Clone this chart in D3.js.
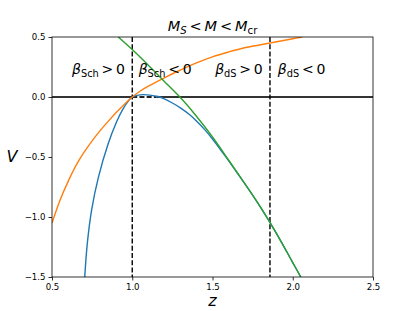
<!DOCTYPE html>
<html>
<head>
<meta charset="utf-8">
<script src="https://cdn.jsdelivr.net/npm/d3@7"></script>
<style>
  body { margin: 0; background: #fff; }
  text { font-family: "DejaVu Sans", sans-serif; }
</style>
</head>
<body>
<div id="chart"></div>
<script>

// Data
var blueZ = [0.704, 0.72, 0.747, 0.789, 0.85, 0.9, 0.94, 0.98, 1.0, 1.03, 1.07, 1.11, 1.16, 1.2, 1.25, 1.3, 1.36, 1.4, 1.45, 1.5, 1.55, 1.6, 1.65, 1.7, 1.8, 1.9, 2.0, 2.05];
var blueV = [-1.5, -1.22, -0.94, -0.67, -0.39, -0.215, -0.106, -0.026, 0, 0.014, 0.02, 0.016, 0.004, -0.015, -0.05, -0.09, -0.15, -0.2, -0.27, -0.35, -0.44, -0.53, -0.625, -0.72, -0.92, -1.14, -1.38, -1.5];

var orangeZ = [0.5, 0.55, 0.6, 0.65, 0.7, 0.75, 0.8, 0.85, 0.9, 0.95, 1.0, 1.05, 1.1, 1.2, 1.3, 1.4, 1.5, 1.6, 1.7, 1.8, 1.9, 2.0, 2.06];
var orangeV = [-1.05, -0.86, -0.705, -0.57, -0.46, -0.365, -0.28, -0.203, -0.13, -0.062, 0, 0.05, 0.09, 0.16, 0.225, 0.285, 0.335, 0.375, 0.41, 0.435, 0.46, 0.485, 0.5];

var greenZ = [0.913, 1.0, 1.1, 1.2, 1.3, 1.4, 1.5, 1.6, 1.7, 1.8, 1.9, 2.0, 2.05];
var greenV = [0.5, 0.395, 0.265, 0.13, -0.005, -0.16, -0.333, -0.525, -0.72, -0.92, -1.14, -1.38, -1.5];

var boundaries = [1.0, 1.858];   // dashed verticals (beta_Sch = 0, beta_dS = 0)
var dashedZero = [1.0, 1.15];    // stretch of the zero line drawn dashed

var xTicks = [0.5, 1.0, 1.5, 2.0, 2.5];
var yTicks = [0.5, 0.0, -0.5, -1.0, -1.5];

var regionSymbol = ['Sch', 'Sch', 'dS', 'dS'];
var regionSign = ['>', '<', '>', '<'];

// Setup
var width = 415, height = 311;
var margin = {left: 52, top: 37, right: 42, bottom: 34};
var plot_w = width - margin.left - margin.right;
var plot_h = height - margin.top - margin.bottom;

var x = d3.scaleLinear().domain([0.5, 2.5]).range([margin.left, margin.left + plot_w]);
var y = d3.scaleLinear().domain([-1.5, 0.5]).range([margin.top + plot_h, margin.top]);

var svg = d3.select('#chart')
  .append('svg')
  .attr('width', width)
  .attr('height', height);

svg.append('defs').append('clipPath')
  .attr('id', 'clip')
  .append('rect')
  .attr('x', margin.left)
  .attr('y', margin.top)
  .attr('width', plot_w)
  .attr('height', plot_h);

var plot = svg.append('g').attr('clip-path', 'url(#clip)');

var line = d3.line()
  .x(function(d) { return x(d[0]); })
  .y(function(d) { return y(d[1]); })
  .curve(d3.curveCatmullRom.alpha(0.5));

function pairs(zs, vs) {
  return zs.map(function(z, i) { return [z, vs[i]]; });
}

// zero line: solid, with a short dashed stretch
plot.append('path')
  .attr('d', line([[0.5, 0], [dashedZero[0], 0]]))
  .attr('stroke', '#333').attr('stroke-width', 2.2).attr('fill', 'none');
plot.append('path')
  .attr('d', line([[dashedZero[1], 0], [2.5, 0]]))
  .attr('stroke', '#333').attr('stroke-width', 2.2).attr('fill', 'none');
plot.append('path')
  .attr('d', line([[dashedZero[0], 0], [dashedZero[1], 0]]))
  .attr('stroke', '#222').attr('stroke-width', 2.2).attr('fill', 'none')
  .attr('stroke-dasharray', '5,2.2');

// dashed boundaries
plot.selectAll('.vline')
  .data(boundaries)
  .enter()
  .append('line')
  .attr('class', 'vline')
  .attr('x1', function(d) { return x(d); })
  .attr('x2', function(d) { return x(d); })
  .attr('y1', y(0.5))
  .attr('y2', y(-1.5))
  .attr('stroke', '#000')
  .attr('stroke-width', 1.4)
  .attr('stroke-dasharray', '5,2.2');

// curves
var curves = [
  {pts: pairs(blueZ, blueV), color: '#1f77b4'},
  {pts: pairs(orangeZ, orangeV), color: '#ff7f0e'},
  {pts: pairs(greenZ, greenV), color: '#2ca02c'}
];
plot.selectAll('.curve')
  .data(curves)
  .enter()
  .append('path')
  .attr('class', 'curve')
  .attr('d', function(d) { return line(d.pts); })
  .attr('fill', 'none')
  .attr('stroke', function(d) { return d.color; })
  .attr('stroke-width', 1.4);

// axes
var xAxis = d3.axisBottom(x).tickValues(xTicks).tickSize(3.5).tickPadding(3)
  .tickFormat(d3.format('.1f'));
var yAxis = d3.axisLeft(y).tickValues(yTicks).tickSize(3.5).tickPadding(3)
  .tickFormat(function(d) { return d3.format('.1f')(d).replace('-', '\u2212'); });

var gx = svg.append('g')
  .attr('transform', 'translate(0,' + (margin.top + plot_h) + ')')
  .call(xAxis);
var gy = svg.append('g')
  .attr('transform', 'translate(' + margin.left + ',0)')
  .call(yAxis);

[gx, gy].forEach(function(g) {
  g.select('.domain').remove();
  g.selectAll('line').attr('stroke', '#000').attr('stroke-width', 0.8);
  g.selectAll('text').attr('font-size', 8.6).attr('fill', '#000')
    .style('font-family', '"DejaVu Sans", sans-serif');
});

// frame
svg.append('rect')
  .attr('x', margin.left)
  .attr('y', margin.top)
  .attr('width', plot_w)
  .attr('height', plot_h)
  .attr('fill', 'none')
  .attr('stroke', '#000')
  .attr('stroke-width', 0.8);

// mathtext-ish helper
function mathText(sel, px, py, size, parts) {
  var t = sel.append('text')
    .attr('x', px)
    .attr('y', py)
    .attr('text-anchor', 'middle')
    .attr('font-size', size)
    .attr('fill', '#000');
  var shifted = false;
  parts.forEach(function(p) {
    var ts = t.append('tspan').text(p[0]);
    var sub = p[1].indexOf('s') === 0;
    if (p[1].indexOf('i') >= 0) ts.attr('font-style', 'italic');
    if (sub) {
      ts.attr('font-size', size * 0.7);
      if (!shifted) { ts.attr('dy', size * 0.22); shifted = true; }
    } else if (shifted) {
      ts.attr('dy', -size * 0.22);
      shifted = false;
    }
  });
  return t;
}

// region labels
var labelZ = [0.79, 1.205, 1.665, 2.055];
regionSymbol.forEach(function(s, i) {
  mathText(svg, x(labelZ[i]), y(0.19), 14, [
    ['\u03b2', 'i'], [s, 's'], ['\u2009' + regionSign[i] + '\u20090', 'r']
  ]);
});

// title
mathText(svg, margin.left + plot_w / 2, 31, 14.5, [
  ['M', 'i'], ['S', 'si'], ['\u2009<\u2009', 'r'], ['M', 'i'], ['\u2009<\u2009', 'r'], ['M', 'i'], ['cr', 's']
]);

// axis labels
svg.append('text')
  .attr('x', margin.left + plot_w / 2)
  .attr('y', 306)
  .attr('text-anchor', 'middle')
  .attr('font-size', 16)
  .attr('font-style', 'italic')
  .text('z');

svg.append('text')
  .attr('x', 12)
  .attr('y', 162)
  .attr('text-anchor', 'middle')
  .attr('font-size', 16)
  .attr('font-style', 'italic')
  .text('V');

</script>
</body>
</html>
